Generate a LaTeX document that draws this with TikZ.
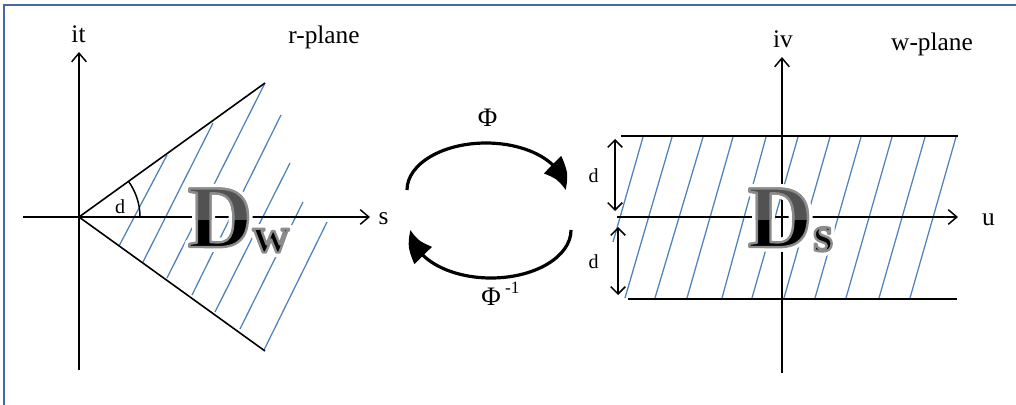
\documentclass[tikz,border=0pt]{standalone}
\usepackage{fontspec}
\setmainfont{Liberation Serif}
\usetikzlibrary{arrows.meta,bending}
\definecolor{hatch}{RGB}{79,129,189}
\definecolor{framecol}{RGB}{68,106,160}
\newcommand{\halostroke}{\special{pdf:literal direct 1 Tr 7 w 1 j 1 1 1 RG}}
\newcommand{\rimstroke}{\special{pdf:literal direct 2 Tr 1.8 w 1 j 0.55 0.55 0.55 RG}}
\newcommand{\strokereset}{\special{pdf:literal direct 0 Tr}}
\begin{document}
\begin{tikzpicture}[x=0.75pt,y=-0.75pt,
  every node/.style={inner sep=0pt},
  axis/.style={line width=1.1pt,-{Straight Barb[length=6.5pt,width=11pt,line width=1.1pt]}},
  dimarrow/.style={line width=1.1pt,{Straight Barb[length=5.5pt,width=11pt,line width=1.1pt]}-{Straight Barb[length=5.5pt,width=11pt,line width=1.1pt]}},
  edge/.style={line width=1.2pt},
  stripline/.style={line width=2pt},
  hatchline/.style={hatch,line width=0.95pt},
  maparc/.style={line width=2.4pt,-{Triangle[length=21pt,width=18pt,bend]}},
  lbl/.style={font=\fontsize{19}{22}\selectfont,anchor=base},
  dlbl/.style={font=\fontsize{15}{17}\selectfont,anchor=base},
  philbl/.style={font=\fontsize{20}{22}\selectfont,anchor=base},
  bigD/.style={font=\fontsize{67}{67}\bfseries\selectfont,anchor=base},
  bigsub/.style={font=\fontsize{38}{38}\bfseries\selectfont,anchor=base}
]
\useasboundingbox (0,0) rectangle (1016,404);
% frame
\draw[framecol,line width=1.9pt] (4,406) -- (4,5) -- (1020,5);

% ---------- left r-plane ----------
\coordinate (O1) at (79,217);
\coordinate (O1b) at (79,370);
\coordinate (O1t) at (79,52);
\coordinate (O1l) at (23,217);
\coordinate (O1r) at (370,217);
\coordinate (W1) at (265,83);
\coordinate (W2) at (265,351);
% hatch
\foreach \i/\a/\b/\c/\d in {1/119/246/167/155, 2/143/262/213/123, 3/167/278/265/83, 4/192/295/281/115, 5/215/312/290/163, 6/240/329/303/202, 7/264/350/327/222}{
  \coordinate (hl\i) at (\a,\b);
  \coordinate (hu\i) at (\c,\d);
  \draw[hatchline] (hl\i) -- (hu\i);
}
\draw[axis] (O1b) -- (O1t);
\draw[axis] (O1l) -- (O1r);
\draw[edge] (W1) -- (O1) -- (W2);
\draw[line width=1.1pt] (O1) ++(61,0) arc[start angle=0,end angle=-35.6,radius=61];
\node[dlbl] (dang) at (120,213) {d};
\node[lbl] (it) at (78.5,42) {it};
\node[lbl] (rplane) at (324,43) {r-plane};
\node[lbl] (s) at (383.5,224) {s};

% ---------- right w-plane ----------
\coordinate (O2) at (782,217);
\coordinate (O2b) at (782,373);
\coordinate (O2t) at (782,57);
\coordinate (O2l) at (617,217);
\coordinate (O2r) at (958,217);
\coordinate (S1l) at (621,136);
\coordinate (S1r) at (958,136);
\coordinate (S2l) at (628,299);
\coordinate (S2r) at (957,299);
\foreach \i/\a/\c in {1/625/672, 2/655/703, 3/687/733, 4/722/766, 5/752/798, 6/784/830, 7/815/861, 8/846/892, 9/879/925, 10/910/956}{
  \coordinate (sb\i) at (\a,298);
  \coordinate (st\i) at (\c,137);
  \draw[hatchline] (sb\i) -- (st\i);
}
\coordinate (sp1) at (643,137);
\coordinate (sp2) at (613,242);
\draw[hatchline] (sp1) -- (sp2);
\draw[axis] (O2b) -- (O2t);
\draw[axis] (O2l) -- (O2r);
\draw[stripline] (S1l) -- (S1r);
\draw[stripline] (S2l) -- (S2r);
\coordinate (da1) at (615,139);
\coordinate (da2) at (615,211);
\coordinate (db1) at (618,227);
\coordinate (db2) at (618,295);
\draw[dimarrow] (da1) -- (da2);
\draw[dimarrow] (db1) -- (db2);
\node[dlbl] (d1) at (593.5,182) {d};
\node[dlbl] (d2) at (593.5,268) {d};
\node[lbl] (iv) at (783,47) {iv};
\node[lbl] (wplane) at (932,50) {w-plane};
\node[lbl] (u) at (988.5,225) {u};

% ---------- mapping arrows ----------
\coordinate (phiS) at (407,190);
\coordinate (psiS) at (571,230);
\draw[maparc] (phiS) arc[start angle=180,end angle=360,x radius=79,y radius=47];
\draw[maparc] (psiS) arc[start angle=0,end angle=180,x radius=80,y radius=48];
\node[philbl] (phi) at (487.5,126) {Φ};
\node[philbl,anchor=base west] (phiinv) at (481,305) {Φ\,\raisebox{0.42em}{\fontsize{13}{15}\selectfont -1}};

% ---------- glossy big letters ----------
\coordinate (DwD) at (220,247);
\coordinate (Dws) at (271,252);
\coordinate (DsD) at (780,247);
\coordinate (Dss) at (823,251);
% white glow
\node[bigD,text=white] (Dwglow) at (DwD) {\halostroke D\strokereset};
\node[bigsub,text=white] (Dwsglow) at (Dws) {\halostroke w\strokereset};
\node[bigD,text=white] (Dsglow) at (DsD) {\halostroke D\strokereset};
\node[bigsub,text=white] (Dssglow) at (Dss) {\halostroke s\strokereset};
% letters with grey rim
\node[bigD] (Dw) at (DwD) {\rimstroke D\strokereset};
\node[bigsub] (Dwsub) at (Dws) {\rimstroke w\strokereset};
\node[bigD] (Ds) at (DsD) {\rimstroke D\strokereset};
\node[bigsub] (Dssub) at (Dss) {\rimstroke s\strokereset};
% lighter upper half
\begin{scope}
  \clip (150,170) rectangle (350,219);
  \node[bigD,text=black!68] (Dwtop) at (DwD) {\rimstroke D\strokereset};
\end{scope}
\begin{scope}
  \clip (700,170) rectangle (900,219);
  \node[bigD,text=black!68] (Dstop) at (DsD) {\rimstroke D\strokereset};
\end{scope}
\end{tikzpicture}
\end{document}
